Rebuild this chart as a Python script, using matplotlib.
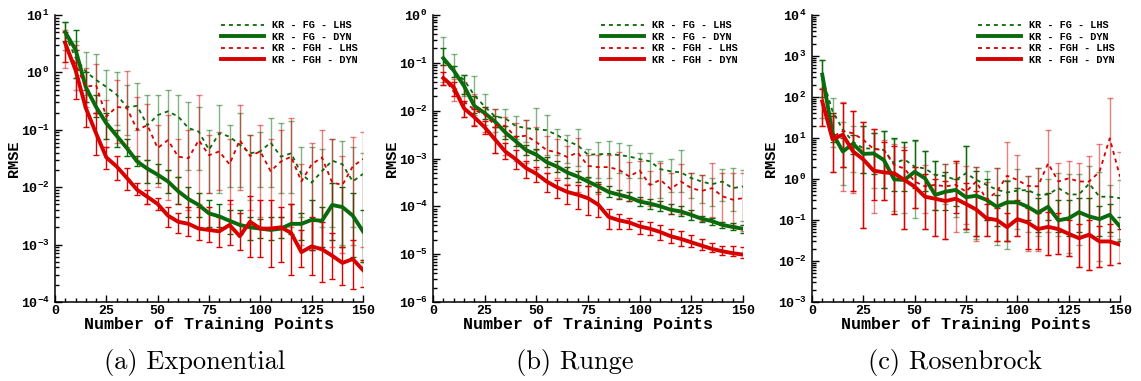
import numpy as np
import matplotlib
matplotlib.use("Agg")
import matplotlib.pyplot as plt
from matplotlib.ticker import LogLocator, MultipleLocator, NullFormatter, FuncFormatter

plt.rcParams['font.family'] = 'Liberation Mono'
plt.rcParams['font.weight'] = 'bold'
plt.rcParams['axes.labelweight'] = 'bold'
plt.rcParams['mathtext.fontset'] = 'custom'
plt.rcParams['mathtext.rm'] = 'Liberation Mono:bold'
plt.rcParams['mathtext.bf'] = 'Liberation Mono:bold'
plt.rcParams['axes.unicode_minus'] = True

npts = np.arange(5, 151, 5)
labels = ['KR - FG - LHS', 'KR - FG - DYN', 'KR - FGH - LHS', 'KR - FGH - DYN']
captions = ['(a) Exponential', '(b) Runge', '(c) Rosenbrock']
ylims = [(1e-4, 1e1), (1e-6, 1e0), (1e-3, 1e4)]

# ---------- (a) Exponential ----------
exp_fg_lhs = [4.5, 1.8, 1.03, 0.74, 0.56, 0.41, 0.25, 0.26, 0.12, 0.18, 0.21, 0.17, 0.107, 0.093, 0.045,
              0.087, 0.076, 0.055, 0.039, 0.042, 0.060, 0.034, 0.039, 0.017, 0.012, 0.019, 0.029, 0.025, 0.0126, 0.017]
exp_fg_lhs_lo = [2.5, 0.8, 0.4, 0.2, 0.15, 0.12, 0.08, 0.1, 0.03, 0.015, 0.02, 0.015, 0.02, 0.02, 0.008,
                 0.008, 0.01, 0.01, 0.006, 0.01, 0.01, 0.008, 0.008, 0.003, 0.0008, 0.002, 0.002, 0.001, 0.002, 0.0005]
exp_fg_lhs_hi = [7.5, 3.5, 2.3, 2.1, 1.1, 1.0, 0.6, 0.65, 0.4, 0.4, 0.5, 0.4, 0.3, 0.25, 0.1,
                 0.27, 0.12, 0.2, 0.08, 0.09, 0.16, 0.13, 0.14, 0.05, 0.05, 0.047, 0.07, 0.065, 0.05, 0.04]

exp_fg_dyn = [5.0, 2.5, 0.55, 0.25, 0.13, 0.079, 0.048, 0.028, 0.021, 0.0165, 0.0126, 0.0085, 0.0062, 0.0049, 0.0035,
              0.0031, 0.0026, 0.0022, 0.0020, 0.0019, 0.0018, 0.0019, 0.0023, 0.0023, 0.0027, 0.0026, 0.0049, 0.0045, 0.0032, 0.0017]
exp_fg_dyn_lo = [3.5, 0.8, 0.3, 0.17, 0.07, 0.05, 0.035, 0.023, 0.012, 0.012, 0.008, 0.005, 0.003, 0.003, 0.002,
                 0.002, 0.0015, 0.0015, 0.0012, 0.0013, 0.0012, 0.0013, 0.0015, 0.0012, 0.0008, 0.0009, 0.0012, 0.0009, 0.0006, 0.0005]
exp_fg_dyn_hi = [7.5, 5.5, 1.0, 0.4, 0.2, 0.1, 0.07, 0.035, 0.03, 0.025, 0.02, 0.015, 0.01, 0.008, 0.006,
                 0.005, 0.004, 0.004, 0.003, 0.0028, 0.003, 0.003, 0.005, 0.0035, 0.006, 0.0045, 0.012, 0.01, 0.008, 0.004]

exp_fgh_lhs = [2.8, 1.4, 0.56, 0.60, 0.17, 0.25, 0.24, 0.10, 0.12, 0.048, 0.066, 0.034, 0.032, 0.066, 0.036,
               0.042, 0.025, 0.066, 0.035, 0.042, 0.019, 0.028, 0.034, 0.0126, 0.025, 0.033, 0.012, 0.011, 0.023, 0.031]
exp_fgh_lhs_lo = [1.2, 0.5, 0.25, 0.2, 0.05, 0.06, 0.05, 0.03, 0.005, 0.01, 0.006, 0.005, 0.004, 0.005, 0.008,
                  0.009, 0.005, 0.009, 0.004, 0.003, 0.002, 0.003, 0.002, 0.001, 0.0008, 0.0008, 0.0009, 0.0007, 0.001, 0.0009]
exp_fgh_lhs_hi = [5.5, 3.0, 1.2, 1.4, 0.33, 0.75, 1.05, 0.38, 0.28, 0.12, 0.18, 0.07, 0.1, 0.4, 0.08,
                  0.09, 0.07, 0.27, 0.08, 0.12, 0.07, 0.1, 0.16, 0.025, 0.06, 0.1, 0.07, 0.035, 0.075, 0.09]

exp_fgh_dyn = [3.2, 1.1, 0.24, 0.087, 0.033, 0.023, 0.0145, 0.009, 0.0068, 0.0051, 0.0032, 0.0025, 0.0023, 0.0019, 0.0018,
               0.0017, 0.0022, 0.0014, 0.0025, 0.0019, 0.0019, 0.0020, 0.0016, 0.00074, 0.00093, 0.00083, 0.00064, 0.00048, 0.00056, 0.00036]
exp_fgh_dyn_lo = [1.5, 0.35, 0.11, 0.037, 0.021, 0.0135, 0.009, 0.0072, 0.005, 0.004, 0.002, 0.0016, 0.0014, 0.0012, 0.0011,
                  0.0009, 0.001, 0.0008, 0.0006, 0.0006, 0.0004, 0.0005, 0.0003, 0.0004, 0.0003, 0.00022, 0.00025, 0.0002, 0.00017, 0.00018]
exp_fgh_dyn_hi = [5.0, 2.5, 0.5, 0.2, 0.05, 0.035, 0.022, 0.012, 0.009, 0.0065, 0.0045, 0.0035, 0.0045, 0.0045, 0.0045,
                  0.003, 0.006, 0.0035, 0.007, 0.006, 0.006, 0.0045, 0.005, 0.0018, 0.003, 0.0025, 0.0016, 0.0009, 0.0012, 0.00055]

# ---------- (b) Runge ----------
run_fg_lhs = [0.11, 0.066, 0.044, 0.021, 0.0122, 0.0076, 0.0069, 0.0048, 0.0043, 0.0041, 0.0039, 0.0031, 0.0023, 0.0019, 0.0012,
              0.00123, 0.00125, 0.00118, 0.0011, 0.00097, 0.00087, 0.0006, 0.00054, 0.00051, 0.00039, 0.00033, 0.00029, 0.00033, 0.00024, 0.00026]
run_fg_lhs_lo = [0.04, 0.03, 0.02, 0.008, 0.005, 0.0035, 0.003, 0.0025, 0.0022, 0.0015, 0.0012, 0.0012, 0.0008, 0.0007, 0.0004,
                 0.0004, 0.0004, 0.0005, 0.0004, 0.0004, 0.0003, 0.00015, 0.0002, 0.0002, 0.00015, 0.00012, 0.0001, 0.00013, 0.00008, 0.00005]
run_fg_lhs_hi = [0.35, 0.15, 0.057, 0.054, 0.022, 0.011, 0.011, 0.0076, 0.0065, 0.0115, 0.0082, 0.0042, 0.0031, 0.0041, 0.0016,
                 0.0022, 0.0023, 0.0021, 0.0019, 0.0013, 0.0013, 0.0009, 0.001, 0.0015, 0.0005, 0.00045, 0.0004, 0.0006, 0.00063, 0.00058]

run_fg_dyn = [0.125, 0.069, 0.033, 0.0126, 0.0089, 0.0059, 0.0035, 0.0023, 0.0015, 0.0012, 0.00084, 0.00068, 0.00051, 0.00042, 0.00033,
              0.00026, 0.00020, 0.000175, 0.000154, 0.000126, 0.000114, 0.0001, 0.000085, 0.000078, 0.000066, 0.000055, 0.000049, 0.000041, 0.000037, 0.000034]
run_fg_dyn_lo = [0.09, 0.05, 0.022, 0.009, 0.0068, 0.0045, 0.0026, 0.0018, 0.0012, 0.00095, 0.00065, 0.00052, 0.0004, 0.00033, 0.00026,
                 0.0002, 0.00016, 0.00014, 0.00013, 0.0001, 0.00009, 0.00008, 0.000068, 0.000062, 0.000052, 0.000047, 0.000041, 0.000035, 0.000032, 0.000028]
run_fg_dyn_hi = [0.2, 0.085, 0.055, 0.02, 0.012, 0.0078, 0.0047, 0.003, 0.0019, 0.0016, 0.0011, 0.0009, 0.00067, 0.00055, 0.00042,
                 0.00033, 0.00027, 0.00022, 0.0002, 0.00016, 0.00014, 0.00013, 0.00011, 0.0001, 0.000085, 0.000062, 0.000058, 0.000048, 0.000044, 0.00004]

run_fgh_lhs = [0.05, 0.025, 0.0155, 0.0104, 0.0082, 0.005, 0.0048, 0.0028, 0.003, 0.0022, 0.0015, 0.00134, 0.00107, 0.00134, 0.0007,
               0.00066, 0.00066, 0.00058, 0.00042, 0.00056, 0.00028, 0.00036, 0.00023, 0.00033, 0.00024, 0.00021, 0.00024, 0.000162, 0.000138, 0.000148]
run_fgh_lhs_lo = [0.035, 0.016, 0.0075, 0.005, 0.0035, 0.0013, 0.0012, 0.0009, 0.0008, 0.0006, 0.0005, 0.0004, 0.0003, 0.0002, 0.00015,
                  0.00018, 0.0002, 0.00015, 0.00013, 0.00014, 0.0001, 0.0001, 0.00007, 0.00007, 0.00007, 0.00005, 0.00006, 0.00004, 0.00004, 0.00003]
run_fgh_lhs_hi = [0.09, 0.045, 0.04, 0.022, 0.012, 0.011, 0.0075, 0.0055, 0.0065, 0.0045, 0.003, 0.0026, 0.0018, 0.0027, 0.0012,
                  0.0012, 0.0012, 0.0014, 0.00085, 0.0009, 0.00055, 0.0008, 0.0005, 0.00075, 0.0005, 0.00045, 0.0008, 0.0005, 0.0005, 0.0005]

run_fgh_dyn = [0.048, 0.031, 0.0112, 0.0073, 0.0045, 0.0025, 0.0014, 0.00097, 0.00063, 0.00048, 0.00033, 0.00025, 0.0002, 0.000175, 0.000148,
               0.000108, 0.00006, 0.000051, 0.000046, 0.000038, 0.000034, 0.000029, 0.0000237, 0.0000208, 0.0000177, 0.0000151, 0.0000129, 0.0000115, 0.0000105, 0.0000098]
run_fgh_dyn_lo = [0.035, 0.02, 0.0075, 0.0048, 0.0032, 0.0013, 0.001, 0.0006, 0.0004, 0.00033, 0.0002, 0.00015, 0.00011, 0.00009, 0.000065,
                  0.00006, 0.000034, 0.000034, 0.000033, 0.000027, 0.000025, 0.00002, 0.000017, 0.000015, 0.000014, 0.000012, 0.000011, 0.0000095, 0.000009, 0.0000085]
run_fgh_dyn_hi = [0.065, 0.04, 0.016, 0.011, 0.0062, 0.0045, 0.0021, 0.0015, 0.0009, 0.00065, 0.0005, 0.00035, 0.00028, 0.00028, 0.00026,
                  0.0003, 0.00009, 0.00007, 0.000058, 0.00005, 0.000046, 0.00004, 0.000034, 0.00003, 0.000025, 0.000021, 0.000017, 0.000015, 0.000015, 0.000014]

# ---------- (c) Rosenbrock ----------
ros_fg_lhs = [300, 45, 16, 8, 5.6, 5.5, 5.1, 2.4, 3.0, 2.0, 1.8, 1.25, 1.18, 0.95, 1.38,
              0.95, 0.72, 0.55, 0.47, 0.52, 0.54, 0.41, 0.42, 0.6, 0.42, 0.42, 0.77, 0.37, 0.37, 0.34]
ros_fg_lhs_lo = [30, 6, 0.7, 1.5, 1.4, 0.6, 0.6, 0.17, 0.15, 0.11, 0.06, 0.18, 0.25, 0.12, 0.05,
                 0.035, 0.1, 0.025, 0.02, 0.06, 0.05, 0.04, 0.05, 0.04, 0.016, 0.025, 0.04, 0.01, 0.04, 0.035]
ros_fg_lhs_hi = [800, 95, 25, 20, 20, 13, 15, 9.5, 8, 8.5, 4.7, 2.7, 2.3, 2.5, 6.5,
                 2.0, 1.6, 1.9, 0.95, 1.8, 1.2, 1.9, 1.0, 1.4, 1.3, 1.3, 2.1, 1.5, 0.7, 0.95]

ros_fg_dyn = [350, 13, 4.7, 7.2, 4.1, 4.2, 2.9, 0.98, 0.95, 1.5, 1.04, 0.41, 0.49, 0.54, 0.36,
              0.39, 0.31, 0.21, 0.27, 0.27, 0.21, 0.15, 0.21, 0.098, 0.11, 0.155, 0.122, 0.105, 0.134, 0.069]
ros_fg_dyn_lo = [100, 8, 2.0, 4, 1.4, 1.3, 0.6, 0.5, 0.5, 0.6, 0.5, 0.18, 0.18, 0.22, 0.06,
                 0.04, 0.1, 0.07, 0.03, 0.1, 0.1, 0.05, 0.1, 0.05, 0.04, 0.05, 0.04, 0.04, 0.05, 0.03]
ros_fg_dyn_hi = [800, 40, 10, 12, 20, 13, 15, 10, 8, 9, 4.8, 2.7, 1.5, 1.0, 6.5,
                 1.6, 1.0, 0.4, 0.9, 0.6, 0.5, 0.35, 0.45, 0.3, 0.3, 0.35, 0.35, 0.22, 0.25, 0.12]

ros_fgh_lhs = [80, 10.7, 14.8, 13, 9, 5.4, 5.1, 2.2, 1.8, 0.87, 0.66, 0.72, 0.66, 0.72, 0.49,
               0.87, 0.31, 0.49, 1.2, 0.95, 0.68, 0.66, 2.4, 0.87, 1.04, 0.87, 0.87, 1.5, 9.8, 1.14]
ros_fgh_lhs_lo = [20, 1.5, 0.5, 0.45, 0.065, 0.15, 0.3, 0.14, 0.06, 0.2, 0.15, 0.04, 0.035, 0.05, 0.08,
                  0.03, 0.04, 0.03, 0.03, 0.04, 0.018, 0.018, 0.014, 0.015, 0.013, 0.007, 0.006, 0.007, 0.008, 0.009]
ros_fgh_lhs_hi = [170, 40, 75, 45, 25, 17, 9, 7, 6, 2.0, 2.2, 1.3, 2.3, 2.8, 2.1,
                  2.0, 0.85, 1.9, 8, 3.8, 1.2, 1.9, 16, 2.4, 2.8, 2.4, 3.7, 7, 95, 4.5]

ros_fgh_dyn = [78, 9.3, 12, 4.7, 3.0, 1.6, 1.45, 1.38, 0.95, 0.65, 0.37, 0.33, 0.29, 0.33, 0.245,
               0.18, 0.11, 0.1, 0.067, 0.105, 0.087, 0.06, 0.068, 0.06, 0.046, 0.036, 0.044, 0.03, 0.03, 0.025]
ros_fgh_dyn_lo = [20, 1.5, 2.0, 0.5, 0.065, 0.3, 0.3, 0.14, 0.06, 0.2, 0.06, 0.04, 0.035, 0.15, 0.06,
                  0.04, 0.04, 0.03, 0.03, 0.04, 0.02, 0.02, 0.014, 0.015, 0.013, 0.007, 0.006, 0.007, 0.008, 0.009]
ros_fgh_dyn_hi = [160, 35, 70, 45, 24, 17, 8, 6.5, 5, 2.0, 1.3, 1.0, 0.9, 2.8, 0.8,
                  0.5, 0.25, 0.2, 0.15, 0.3, 0.2, 0.15, 0.16, 0.15, 0.1, 0.08, 0.1, 0.07, 0.08, 0.06]

panels = [
    [(exp_fg_lhs, exp_fg_lhs_lo, exp_fg_lhs_hi), (exp_fg_dyn, exp_fg_dyn_lo, exp_fg_dyn_hi),
     (exp_fgh_lhs, exp_fgh_lhs_lo, exp_fgh_lhs_hi), (exp_fgh_dyn, exp_fgh_dyn_lo, exp_fgh_dyn_hi)],
    [(run_fg_lhs, run_fg_lhs_lo, run_fg_lhs_hi), (run_fg_dyn, run_fg_dyn_lo, run_fg_dyn_hi),
     (run_fgh_lhs, run_fgh_lhs_lo, run_fgh_lhs_hi), (run_fgh_dyn, run_fgh_dyn_lo, run_fgh_dyn_hi)],
    [(ros_fg_lhs, ros_fg_lhs_lo, ros_fg_lhs_hi), (ros_fg_dyn, ros_fg_dyn_lo, ros_fg_dyn_hi),
     (ros_fgh_lhs, ros_fgh_lhs_lo, ros_fgh_lhs_hi), (ros_fgh_dyn, ros_fgh_dyn_lo, ros_fgh_dyn_hi)],
]

green = '#0b6a0b'
red = '#d90000'
styles = [
    dict(color=green, lw=1.3, dashes=(2.2, 2.2), bar_alpha=0.5),
    dict(color=green, lw=2.8, dashes=None, bar_alpha=1.0),
    dict(color=red, lw=1.3, dashes=(2.2, 2.2), bar_alpha=0.5),
    dict(color=red, lw=2.8, dashes=None, bar_alpha=1.0),
]


def pow10(v, pos):
    e = int(round(np.log10(v)))
    return r'$\mathbf{10^{%d}}$' % e


W, H = 1141, 381
fig = plt.figure(figsize=(W / 100, H / 100), dpi=100)
lefts = [55, 433, 812]
widths = [308, 310, 308]
caption_x = [195, 575, 955]

for k in range(3):
    ax = fig.add_axes([lefts[k] / W, (H - 302) / H, widths[k] / W, 287 / H])
    handles = []
    for s, (vals, lo, hi) in zip(styles, panels[k]):
        v = np.array(vals)
        err = [np.maximum(v - np.array(lo), 0), np.maximum(np.array(hi) - v, 0)]
        ax.errorbar(npts, v, yerr=err, fmt='none', ecolor=s['color'], alpha=s['bar_alpha'],
                    elinewidth=1.0, capsize=2.2, capthick=1.0, zorder=2)
    for s, (vals, lo, hi), lab in zip(styles, panels[k], labels):
        line, = ax.plot(npts, vals, color=s['color'], lw=s['lw'], label=lab, zorder=3)
        if s['dashes']:
            line.set_dashes(s['dashes'])
        handles.append(line)

    ax.set_yscale('log')
    ax.set_xlim(0, 150)
    ax.set_ylim(*ylims[k])
    ax.xaxis.set_major_locator(MultipleLocator(25))
    ax.xaxis.set_minor_locator(MultipleLocator(5))
    ax.yaxis.set_major_locator(LogLocator(base=10, numticks=20))
    ax.yaxis.set_major_formatter(FuncFormatter(pow10))
    ax.yaxis.set_minor_locator(LogLocator(base=10, subs=np.arange(2, 10), numticks=20))
    ax.yaxis.set_minor_formatter(NullFormatter())
    for sp in ['top', 'right']:
        ax.spines[sp].set_visible(False)
    for sp in ['left', 'bottom']:
        ax.spines[sp].set_linewidth(1.1)
    ax.tick_params(which='both', direction='in', top=False, right=False, width=1.0, labelsize=9.5)
    ax.tick_params(which='major', length=5)
    ax.tick_params(which='minor', length=3)
    ax.tick_params(axis='y', pad=4)
    ax.tick_params(axis='x', pad=2)
    for t in ax.get_xticklabels():
        t.set_fontweight('bold')

    ax.set_xlabel('Number of Training Points', fontsize=12, fontweight='bold', labelpad=0.5)
    ax.set_ylabel('RMSE', fontsize=11, fontweight='bold', labelpad=0)

    ax.legend(handles=handles, loc='upper right', bbox_to_anchor=(1.0, 1.0), frameon=False,
              prop={'family': 'Liberation Mono', 'weight': 'bold', 'size': 7.4},
              handlelength=4.2, handletextpad=0.8, labelspacing=0.15, borderaxespad=0.3, borderpad=0.2)

    fig.text(caption_x[k] / W, (H - 363) / H, captions[k], fontfamily='cmr10', fontweight='normal',
             fontsize=19, ha='center', va='center')

fig.savefig('out.png', dpi=100)
